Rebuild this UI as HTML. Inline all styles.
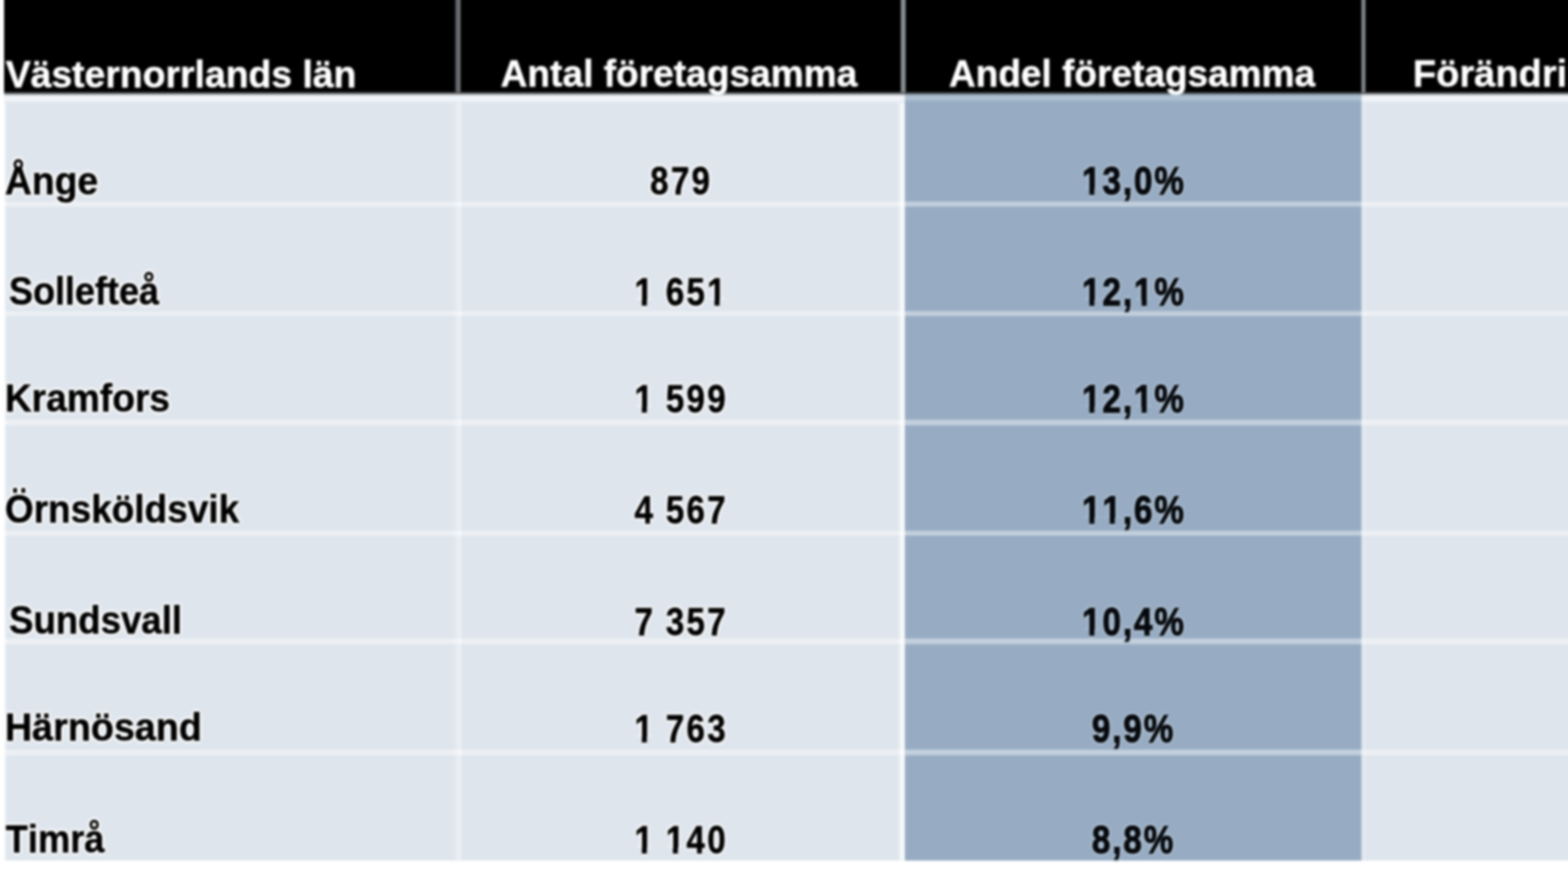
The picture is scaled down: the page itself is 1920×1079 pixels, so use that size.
<!DOCTYPE html>
<html lang="sv">
<head>
<meta charset="utf-8">
<title>Västernorrlands län – företagsamma</title>
<style>
html,body{margin:0;padding:0;background:#fff;}
body{width:1920px;height:1079px;overflow:hidden;position:relative;font-family:"Liberation Sans",Arial,Helvetica,sans-serif;font-weight:bold;font-kerning:none;}
#wrap{position:absolute;left:-40px;top:-40px;width:2000px;height:1159px;overflow:hidden;filter:blur(1.40px);background:#fff;}
#wrap div{position:absolute;}
.t{position:absolute;white-space:nowrap;transform-origin:0 0;display:block;}
.h{color:#fff;-webkit-text-stroke:0.5px #fff;}
.l,.n{color:#000;-webkit-text-stroke:0.6px #000;text-shadow:3px 0px 1.5px rgba(255,255,255,.8),-3px 0px 1.5px rgba(255,255,255,.8),0px 3px 1.5px rgba(255,255,255,.8),0px -3px 1.5px rgba(255,255,255,.8),2px 2px 1.5px rgba(255,255,255,.8),-2px 2px 1.5px rgba(255,255,255,.8),2px -2px 1.5px rgba(255,255,255,.8),-2px -2px 1.5px rgba(255,255,255,.8);}
.n{-webkit-text-stroke-width:0.8px;}
.p{color:#05080c;-webkit-text-stroke:1.5px #05080c;text-shadow:3px 0px 1.5px rgba(190,205,222,.55),-3px 0px 1.5px rgba(190,205,222,.55),0px 3px 1.5px rgba(190,205,222,.55),0px -3px 1.5px rgba(190,205,222,.55),2px 2px 1.5px rgba(190,205,222,.55),-2px 2px 1.5px rgba(190,205,222,.55),2px -2px 1.5px rgba(190,205,222,.55),-2px -2px 1.5px rgba(190,205,222,.55);}
.n,.p{font-size:47.86px;line-height:47.86px;letter-spacing:3.30px;word-spacing:-1.60px;transform:scaleX(0.850);}
.p{letter-spacing:2.75px;}

</style>
</head>
<body>
<div id="wrap">
<div style="left:45.00px;top:0.00px;width:1955.00px;height:154.30px;background:#000"></div>
<div style="left:45.00px;top:154.30px;width:1955.00px;height:940.10px;background:#dee5ed"></div>
<div style="left:1147.70px;top:154.30px;width:559.80px;height:940.10px;background:#97acc3"></div>
<div style="left:44.50px;top:156.30px;width:4.50px;height:938.10px;background:linear-gradient(to right,rgba(255,255,255,.75),rgba(255,255,255,0))"></div>
<div style="left:1708.00px;top:154.30px;width:5.00px;height:940.10px;background:rgba(255,255,255,.12)"></div>
<div style="left:596.00px;top:154.30px;width:3.80px;height:940.10px;background:rgba(255,255,255,.18)"></div>
<div style="left:599.80px;top:154.30px;width:5.20px;height:940.10px;background:rgba(255,255,255,.40)"></div>
<div style="left:1139.00px;top:154.30px;width:3.40px;height:940.10px;background:#e4e9ec"></div>
<div style="left:1142.40px;top:154.30px;width:5.30px;height:940.10px;background:#f6f9fb"></div>
<div style="left:45.00px;top:286.70px;width:1955.00px;height:6.80px;background:rgba(255,255,255,.42)"></div>
<div style="left:45.00px;top:420.60px;width:1955.00px;height:6.80px;background:rgba(255,255,255,.42)"></div>
<div style="left:45.00px;top:554.40px;width:1955.00px;height:6.80px;background:rgba(255,255,255,.42)"></div>
<div style="left:45.00px;top:689.50px;width:1955.00px;height:6.80px;background:rgba(255,255,255,.42)"></div>
<div style="left:45.00px;top:822.20px;width:1955.00px;height:6.80px;background:rgba(255,255,255,.42)"></div>
<div style="left:45.00px;top:957.80px;width:1955.00px;height:6.80px;background:rgba(255,255,255,.42)"></div>
<div style="left:45.00px;top:151.60px;width:1955.00px;height:14.00px;background:linear-gradient(to bottom,#000 0.00px,#f0f3f7 5.30px,#f0f3f7 11.50px,#dee5ed 14.00px)"></div>
<div style="left:1147.70px;top:151.60px;width:559.80px;height:14.00px;background:linear-gradient(to bottom,#000 0.00px,#adbfd0 5.00px,#adbfd0 10.20px,#97acc3 12.60px,#97acc3 14.00px)"></div>
<div style="left:596.60px;top:0.00px;width:2.80px;height:153.00px;background:#3e4144"></div>
<div style="left:599.40px;top:0.00px;width:4.20px;height:153.00px;background:#6c7074"></div>
<div style="left:1143.40px;top:0.00px;width:5.20px;height:153.00px;background:#868b91"></div>
<div style="left:1706.60px;top:0.00px;width:5.60px;height:153.00px;background:#80858a"></div>
<span class="t h" style="left:47.19px;top:107.54px;font-size:46.14px;line-height:46.14px;transform:scaleX(0.9914)">Västernorrlands län</span>
<span class="t h" style="left:652.87px;top:107.24px;font-size:46.14px;line-height:46.14px;transform:scaleX(0.9848)">Antal företagsamma</span>
<span class="t h" style="left:1201.57px;top:107.24px;font-size:46.14px;line-height:46.14px;transform:scaleX(0.9827)">Andel företagsamma</span>
<span class="t h" style="left:1770.18px;top:107.44px;font-size:46.14px;line-height:46.14px;transform:scaleX(1.0106)">Förändring</span>
<span class="t l" style="left:46.36px;top:237.79px;font-size:47.86px;line-height:47.86px;transform:scaleX(0.9545)">Ånge</span>
<span class="t n" style="left:835.76px;top:238.39px">879</span>
<span class="t p" style="left:1365.05px;top:238.39px">13,0%</span>
<span class="t l" style="left:51.23px;top:373.29px;font-size:47.86px;line-height:47.86px;transform:scaleX(0.9208)">Sollefteå</span>
<span class="t n" style="left:816.67px;top:374.29px">1 651</span>
<span class="t p" style="left:1365.05px;top:374.29px">12,1%</span>
<span class="t l" style="left:45.71px;top:504.29px;font-size:47.86px;line-height:47.86px;transform:scaleX(0.9501)">Kramfors</span>
<span class="t n" style="left:816.67px;top:505.49px">1 599</span>
<span class="t p" style="left:1365.05px;top:505.49px">12,1%</span>
<span class="t l" style="left:45.64px;top:639.79px;font-size:47.86px;line-height:47.86px;transform:scaleX(0.9459)">Örnsköldsvik</span>
<span class="t n" style="left:816.67px;top:640.99px">4 567</span>
<span class="t p" style="left:1365.05px;top:640.99px">11,6%</span>
<span class="t l" style="left:51.21px;top:776.29px;font-size:47.86px;line-height:47.86px;transform:scaleX(0.9377)">Sundsvall</span>
<span class="t n" style="left:816.67px;top:777.69px">7 357</span>
<span class="t p" style="left:1365.05px;top:777.69px">10,4%</span>
<span class="t l" style="left:45.66px;top:907.29px;font-size:47.86px;line-height:47.86px;transform:scaleX(0.9647)">Härnösand</span>
<span class="t n" style="left:816.67px;top:908.69px">1 763</span>
<span class="t p" style="left:1376.53px;top:908.69px">9,9%</span>
<span class="t l" style="left:47.00px;top:1043.59px;font-size:47.86px;line-height:47.86px;transform:scaleX(0.9276)">Timrå</span>
<span class="t n" style="left:816.67px;top:1044.99px">1 140</span>
<span class="t p" style="left:1376.53px;top:1044.99px">8,8%</span>
<div style="left:1362.61px;top:271.24px;width:11.65px;height:11.25px;background:#97acc3"></div>
<div style="left:1380.41px;top:271.24px;width:9.05px;height:11.25px;background:#97acc3"></div>
<div style="left:814.23px;top:407.14px;width:11.65px;height:11.25px;background:#dee5ed"></div>
<div style="left:832.03px;top:407.14px;width:9.05px;height:11.25px;background:#dee5ed"></div>
<div style="left:903.26px;top:407.14px;width:11.65px;height:11.25px;background:#dee5ed"></div>
<div style="left:921.06px;top:407.14px;width:9.05px;height:11.25px;background:#dee5ed"></div>
<div style="left:1362.61px;top:407.14px;width:11.65px;height:11.25px;background:#97acc3"></div>
<div style="left:1380.41px;top:407.14px;width:9.05px;height:11.25px;background:#97acc3"></div>
<div style="left:1426.17px;top:407.14px;width:11.65px;height:11.25px;background:#97acc3"></div>
<div style="left:1443.98px;top:407.14px;width:9.05px;height:11.25px;background:#97acc3"></div>
<div style="left:814.23px;top:538.34px;width:11.65px;height:11.25px;background:#dee5ed"></div>
<div style="left:832.03px;top:538.34px;width:9.05px;height:11.25px;background:#dee5ed"></div>
<div style="left:1362.61px;top:538.34px;width:11.65px;height:11.25px;background:#97acc3"></div>
<div style="left:1380.41px;top:538.34px;width:9.05px;height:11.25px;background:#97acc3"></div>
<div style="left:1426.17px;top:538.34px;width:11.65px;height:11.25px;background:#97acc3"></div>
<div style="left:1443.98px;top:538.34px;width:9.05px;height:11.25px;background:#97acc3"></div>
<div style="left:1362.61px;top:673.84px;width:11.65px;height:11.25px;background:#97acc3"></div>
<div style="left:1380.41px;top:673.84px;width:9.05px;height:11.25px;background:#97acc3"></div>
<div style="left:1387.57px;top:673.84px;width:11.65px;height:11.25px;background:#97acc3"></div>
<div style="left:1405.38px;top:673.84px;width:9.05px;height:11.25px;background:#97acc3"></div>
<div style="left:1362.61px;top:810.54px;width:11.65px;height:11.25px;background:#97acc3"></div>
<div style="left:1380.41px;top:810.54px;width:9.05px;height:11.25px;background:#97acc3"></div>
<div style="left:814.23px;top:941.54px;width:11.65px;height:11.25px;background:#dee5ed"></div>
<div style="left:832.03px;top:941.54px;width:9.05px;height:11.25px;background:#dee5ed"></div>
<div style="left:814.23px;top:1077.84px;width:11.65px;height:11.25px;background:#dee5ed"></div>
<div style="left:832.03px;top:1077.84px;width:9.05px;height:11.25px;background:#dee5ed"></div>
<div style="left:852.41px;top:1077.84px;width:11.65px;height:11.25px;background:#dee5ed"></div>
<div style="left:870.21px;top:1077.84px;width:9.05px;height:11.25px;background:#dee5ed"></div>
</div>
</body>
</html>
